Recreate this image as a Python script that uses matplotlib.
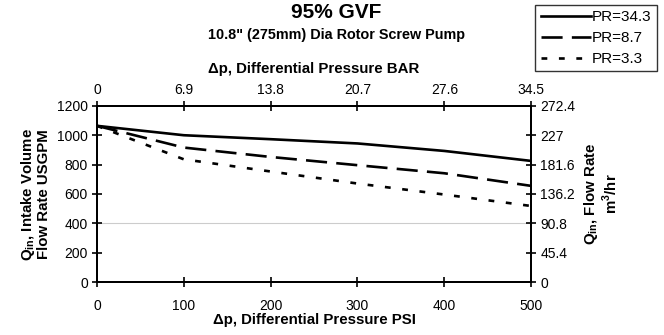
import matplotlib.pyplot as plt

plt.rcParams['font.family'] = ['Liberation Sans', 'DejaVu Sans']

psi = [0, 100, 200, 300, 400, 500]
pr_34 = [1064, 1000, 973, 944, 893, 825]
pr_8 = [1064, 916, 852, 796, 741, 655]
pr_3 = [1064, 836, 753, 671, 596, 518]

bar_ticks = [0, 6.9, 13.8, 20.7, 27.6, 34.5]
bar_labels = ['0', '6.9', '13.8', '20.7', '27.6', '34.5']
m3_ticks = [0, 45.4, 90.8, 136.2, 181.6, 227, 272.4]
m3_labels = ['0', '45.4', '90.8', '136.2', '181.6', '227', '272.4']

fig = plt.figure(figsize=(6.64, 3.35), dpi=100)
ax = fig.add_axes([0.146, 0.158, 0.654, 0.526])

ax.axhline(400, color='#cccccc', lw=0.8, zorder=0)
l1, = ax.plot(psi, pr_34, color='black', lw=1.9, label='PR=34.3')
l2, = ax.plot(psi, pr_8, color='black', lw=1.9, dashes=(8, 3.5), label='PR=8.7')
l3, = ax.plot(psi, pr_3, color='black', lw=1.9, dashes=(2.2, 4.4), label='PR=3.3')

lab = dict(fontsize=10.8, fontweight='bold')
ax.set_xlim(0, 500)
ax.set_ylim(0, 1200)
ax.set_xticks(range(0, 501, 100))
ax.set_yticks(range(0, 1201, 200))
ax.set_xlabel('Δp, Differential Pressure PSI', labelpad=0, **lab)
ax.set_ylabel('Q$_{\\mathregular{in}}$, Intake Volume\nFlow Rate USGPM', labelpad=4,
              linespacing=1.05, **lab)

ax_top = ax.twiny()
ax_top.set_xlim(0, 34.5)
ax_top.set_xticks(bar_ticks)
ax_top.set_xticklabels(bar_labels)
ax_top.set_xlabel('Δp, Differential Pressure BAR', labelpad=7, **lab)

ax_r = ax.twinx()
ax_r.set_ylim(0, 272.4)
ax_r.set_yticks(m3_ticks)
ax_r.set_yticklabels(m3_labels)
ax_r.set_ylabel('Q$_{\\mathregular{in}}$, Flow Rate\nm$^{\\mathregular{3}}$/hr', labelpad=5,
                linespacing=1.05, **lab)

for a in (ax, ax_top, ax_r):
    a.tick_params(direction='inout', length=7, width=1.2, labelsize=10, pad=3)
    for s in a.spines.values():
        s.set_linewidth(1.3)
ax.tick_params(axis='x', pad=9)

fig.text(0.507, 0.962, '95% GVF', ha='center', va='center', fontsize=15, fontweight='bold')
fig.text(0.507, 0.897, '10.8" (275mm) Dia Rotor Screw Pump', ha='center', va='center',
         fontsize=10.4, fontweight='bold')

leg = fig.legend(handles=[l1, l2, l3], loc='upper right', bbox_to_anchor=(0.989, 0.985),
                 fontsize=11, frameon=True, fancybox=False, edgecolor='black',
                 handlelength=3.3, handletextpad=0.05, borderpad=0.35, labelspacing=0.45,
                 borderaxespad=0)
leg.get_frame().set_linewidth(1.0)

fig.savefig('out.png', dpi=100)
